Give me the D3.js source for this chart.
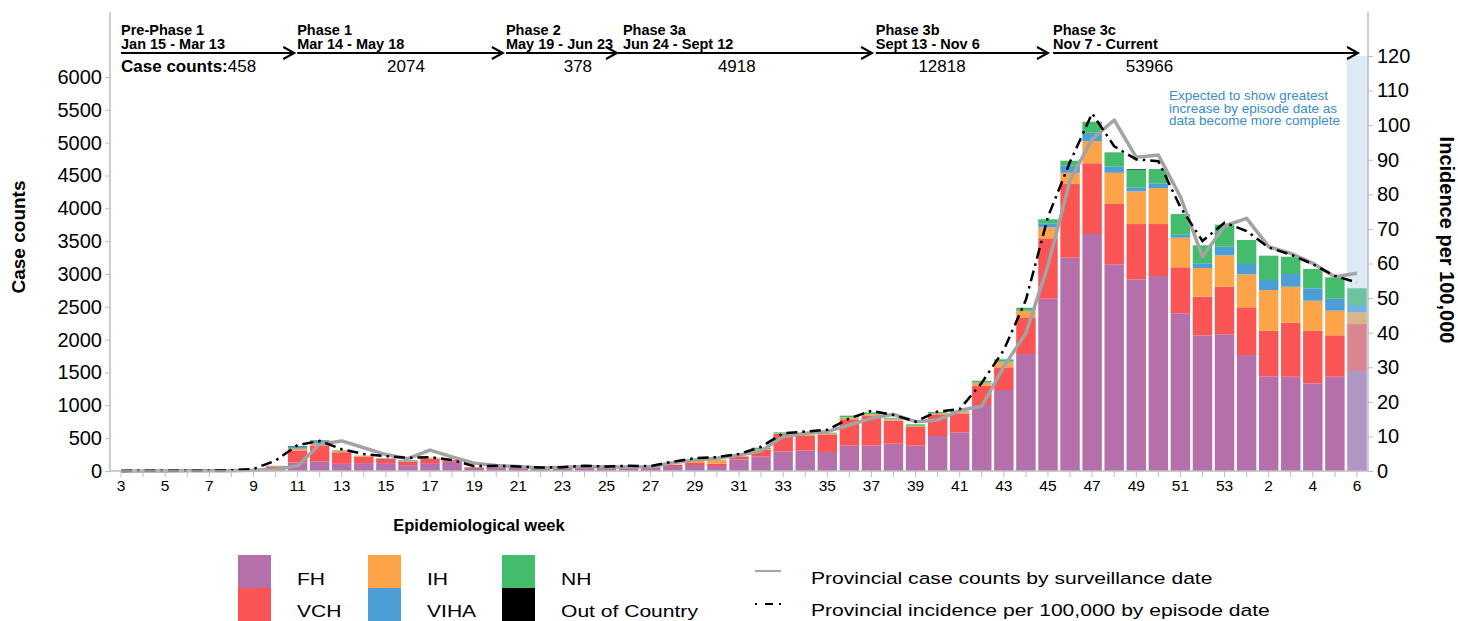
<!DOCTYPE html>
<html>
<head>
<meta charset="utf-8">
<script src="https://cdn.jsdelivr.net/npm/d3@7"></script>
<style>
  body { margin: 0; background: #fff; }
  svg { font-family: "Liberation Sans", Arial, sans-serif; }
</style>
</head>
<body>
<svg id="chart" width="1458" height="621"></svg>
<script>
// epi weeks 3..53 of 2020, then 1..6 of 2021
const weekLabels = [3,4,5,6,7,8,9,10,11,12,13,14,15,16,17,18,19,20,21,22,23,24,25,26,27,28,29,30,
  31,32,33,34,35,36,37,38,39,40,41,42,43,44,45,46,47,48,49,50,51,52,53,1,2,3,4,5,6]

const FH   = [0,0,1,1,2,2,6,20, 130,146,109,120,120,89,120,141,47,62, 60,42,52,62,55,60,56,76,91,76,
  178,218,300,310,290,386,386,416,386,533, 589,1005,1233,1782,2624,3248,3609,3148,2919,2969,
  2401,2066,2082, 1766,1442,1436,1335,1436,1523]
const VCH  = [1,0,1,2,2,4,14,50, 182,244,177,94,68,57,68,26,10,6, 8,5,7,8,8,14,8,17,31,36,
  40,107,263,223,268,401,451,350,284,330, 289,294,346,558,919,1122,1077,918,842,792,
  701,588,724, 727,694,822,801,630,715]
const IH   = [0,0,0,0,0,0,2,5, 27,27,21,15,5,4,8,3,3,3, 4,3,4,5,5,4,4,8,50,56,
  8,10,8,15,10,25,26,21,15,15, 15,45,76,96,168,172,339,476,498,548,
  451,437,478, 502,620,548,457,375,179]
const VIHA = [0,0,0,0,0,0,1,3, 26,41,6,3,3,10,4,2,0,2, 0,0,0,0,0,0,0,0,0,0,
  0,0,5,0,4,5,5,10,4,5, 3,8,10,10,61,107,126,92,61,72,
  45,72,132, 157,153,194,189,189,111]
const NH   = [0,0,0,0,0,0,0,2, 10,8,5,2,2,7,3,0,2,0, 0,0,0,2,0,0,0,0,3,4,
  3,20,13,5,12,26,25,13,22,17, 13,23,36,41,61,76,168,219,264,218,
  315,274,335, 366,370,263,294,320,254]
const OOC  = [0,0,0,0,0,0,0,0, 5,3,0,0,0,0,0,0,0,0, 0,0,0,0,0,0,0,0,0,0,
  0,0,0,0,0,0,0,0,0,0, 0,0,0,0,0,0,0,0,10,0,
  0,0,0, 0,0,0,0,0,0]

// provincial case counts by surveillance date (left axis)
const surveillance = [0,0,1,2,2,3,10,26, 78,406,458,354,250,188,318,214,120,83, 68,47,57,68,62,60,66,127,167,193,
  244,305,523,574,599,701,802,863,751,777, 920,985,1590,2100,3130,4430,5055,5345,4777,4812,
  4177,3263,3731, 3848,3416,3315,3163,2959,3010]
// provincial incidence per 100,000 by episode date (right axis)
const incidence = [0,0.1,0.1,0.1,0.1,0.2,0.6,3.0, 7.5,8.7,6.3,4.9,4.3,3.8,4.0,3.2,1.4,1.5, 1.3,1.0,1.1,1.5,1.3,1.5,1.4,2.7,3.7,4.0,
  4.9,7.0,10.9,11.4,11.9,15.2,17.4,16.2,14.3,17.2, 17.9,25.5,35.0,49.5,73.5,89.4,103.4,93.9,90.1,89.6,
  76.3,66.5,71.8, 69.4,64.6,62.6,59.8,56.4,54.5]

const regions = ["FH", "VCH", "IH", "VIHA", "NH", "Out of Country"]
const regionValues = [FH, VCH, IH, VIHA, NH, OOC]
const regionColors = ["#b56fab", "#fb5454", "#fda448", "#4c9fd6", "#43bc6b", "#000000"]

const leftTicks = d3.range(0, 6001, 500)
const rightTicks = d3.range(0, 121, 10)

const phaseNames  = ["Pre-Phase 1", "Phase 1", "Phase 2", "Phase 3a", "Phase 3b", "Phase 3c"]
const phaseDates  = ["Jan 15 - Mar 13", "Mar 14 - May 18", "May 19 - Jun 23", "Jun 24 - Sept 12", "Sept 13 - Nov 6", "Nov 7 - Current"]
const phaseCounts = [458, 2074, 378, 4918, 12818, 53966]

const noteLines = ["Expected to show greatest", "increase by episode date as", "data become more complete"]

// ---- layout (in band units along the week axis) ----
const phaseLayout = [
  {from: 0.5,   to: 8.35,  label: 0.5,   count: 0.5},
  {from: 8.48,  to: 17.8,  label: 8.48,  count: 13.41},
  {from: 17.94, to: 22.97, label: 17.94, count: 21.2},
  {from: 23.02, to: 34.53, label: 23.24, count: 28.4},
  {from: 34.7,  to: 42.5,  label: 34.7,  count: 37.7},
  {from: 42.73, to: 56.55, label: 42.73, count: 47.1},
]

const svg = d3.select("#chart")
const m = {left: 110, right: 1368, top: 12, bottom: 471}
const axisGrey = "#bdbdbd"

const x = d3.scaleBand()
    .domain(d3.range(weekLabels.length))
    .range([m.left, m.right])
    .paddingInner(0.12)
    .paddingOuter(0.06)
const yL = d3.scaleLinear().domain([0, 6000]).range([m.bottom, 77])
const yR = d3.scaleLinear().domain([0, 120]).range([m.bottom, 56])
const cx = i => x(i) + x.bandwidth() / 2
const xAt = p => m.left + x.step() * p

// stacked bars
const rows = weekLabels.map((w, i) => {
  const r = {i}
  regions.forEach((k, j) => r[k] = regionValues[j][i])
  return r
})
const stacked = d3.stack().keys(regions)(rows)

svg.append("g").selectAll("g")
  .data(stacked)
  .join("g")
    .attr("fill", (d, k) => regionColors[k])
  .selectAll("rect")
  .data(d => d)
  .join("rect")
    .attr("x", d => x(d.data.i))
    .attr("width", x.bandwidth())
    .attr("y", d => yL(d[1]))
    .attr("height", d => yL(d[0]) - yL(d[1]))

// shading over the last, incomplete week
const last = weekLabels.length - 1
svg.append("rect")
    .attr("x", x(last) - 0.5)
    .attr("width", m.right - x(last) + 0.5)
    .attr("y", yR(120))
    .attr("height", yR(0) - yR(120))
    .attr("fill", "#aacde8")
    .attr("opacity", 0.42)

// lines
svg.append("path")
    .datum(surveillance)
    .attr("d", d3.line().x((d, i) => cx(i)).y(d => yL(d)))
    .attr("fill", "none")
    .attr("stroke", "#a3a3a3")
    .attr("stroke-width", 3.5)
    .attr("stroke-linejoin", "round")

svg.append("path")
    .datum(incidence)
    .attr("d", d3.line().x((d, i) => cx(i)).y(d => yR(d)))
    .attr("fill", "none")
    .attr("stroke", "#000")
    .attr("stroke-width", 2.5)
    .attr("stroke-dasharray", "11,5,2.5,5")

// axes
const gL = svg.append("g")
    .attr("transform", `translate(${m.left},0)`)
    .call(d3.axisLeft(yL).tickValues(leftTicks).tickFormat(d3.format("d")).tickSize(5).tickPadding(3))
gL.select(".domain").remove()
gL.selectAll("line").attr("stroke", axisGrey)
gL.attr("font-size", 20).attr("font-family", null)

const gR = svg.append("g")
    .attr("transform", `translate(${m.right},0)`)
    .call(d3.axisRight(yR).tickValues(rightTicks).tickSize(5).tickPadding(4))
gR.select(".domain").remove()
gR.selectAll("line").attr("stroke", axisGrey)
gR.attr("font-size", 20).attr("font-family", null)

const gX = svg.append("g")
    .attr("transform", `translate(0,${m.bottom})`)
    .call(d3.axisBottom(x).tickSize(6).tickPadding(3)
      .tickFormat(i => i % 2 === 0 ? weekLabels[i] : ""))
gX.select(".domain").remove()
gX.selectAll("line").attr("stroke", axisGrey)
gX.attr("font-size", 15.5).attr("font-family", null)

svg.append("g").attr("stroke", axisGrey).attr("stroke-width", 1.5)
  .selectAll("line")
  .data([[m.left, m.top, m.left, m.bottom], [m.right, m.top, m.right, m.bottom], [m.left, m.bottom, m.right, m.bottom]])
  .join("line")
    .attr("x1", d => d[0]).attr("y1", d => d[1])
    .attr("x2", d => d[2]).attr("y2", d => d[3])

// axis titles
svg.append("text")
    .attr("transform", "translate(25,237) rotate(-90)")
    .attr("text-anchor", "middle")
    .attr("font-weight", "bold")
    .attr("font-size", 19)
    .text("Case counts")
svg.append("text")
    .attr("transform", "translate(1440,240) rotate(90)")
    .attr("text-anchor", "middle")
    .attr("font-weight", "bold")
    .attr("font-size", 20)
    .text("Incidence per 100,000")
svg.append("text")
    .attr("x", 479).attr("y", 531)
    .attr("text-anchor", "middle")
    .attr("font-weight", "bold")
    .attr("font-size", 16.5)
    .text("Epidemiological week")

// phases across the top
const gP = svg.append("g")
phaseLayout.forEach((p, k) => {
  const x0 = xAt(p.from), x1 = xAt(p.to)
  gP.append("line")
      .attr("x1", x0).attr("x2", x1).attr("y1", 53).attr("y2", 53)
      .attr("stroke", "#000").attr("stroke-width", 2)
  gP.append("path")
      .attr("d", `M${x1 - 11},47 L${x1},53 L${x1 - 11},59`)
      .attr("fill", "none").attr("stroke", "#000").attr("stroke-width", 2)
  gP.append("text")
      .attr("x", xAt(p.label)).attr("y", 35)
      .attr("font-weight", "bold").attr("font-size", 14.5)
      .text(phaseNames[k])
  gP.append("text")
      .attr("x", xAt(p.label)).attr("y", 49)
      .attr("font-weight", "bold").attr("font-size", 14.5)
      .text(phaseDates[k])
  if (k === 0) {
    const t = gP.append("text").attr("x", xAt(p.count)).attr("y", 72).attr("font-size", 17)
    t.append("tspan").attr("font-weight", "bold").text("Case counts:")
    t.append("tspan").text(phaseCounts[k])
  } else {
    gP.append("text")
        .attr("x", xAt(p.count)).attr("y", 72)
        .attr("text-anchor", "middle").attr("font-size", 17)
        .text(phaseCounts[k])
  }
})

// note about the last week
svg.append("g").attr("fill", "#3b8ccc").attr("font-size", 13.5)
  .selectAll("text")
  .data(noteLines)
  .join("text")
    .attr("x", 1169)
    .attr("y", (d, i) => 100 + i * 12.6)
    .text(d => d)

// legend: FH, VCH in col 0; IH, VIHA in col 1; NH, Out of Country in col 2
const lg = svg.append("g")
const legendCols = [238, 368, 502]
const legendOrder = [[0, 1], [2, 3], [4, 5]]
legendOrder.forEach((pair, col) => {
  pair.forEach((k, row) => {
    lg.append("rect")
        .attr("x", legendCols[col]).attr("y", 555 + row * 33)
        .attr("width", 33).attr("height", 33)
        .attr("fill", regionColors[k])
    lg.append("text")
        .attr("transform", `translate(${legendCols[col] + 59},${585 + row * 32}) scale(1.24,1)`)
        .attr("font-size", 17)
        .text(regions[k])
  })
})
lg.append("line")
    .attr("x1", 755).attr("x2", 781).attr("y1", 571).attr("y2", 571)
    .attr("stroke", "#a3a3a3").attr("stroke-width", 2)
lg.append("line")
    .attr("x1", 755).attr("x2", 781).attr("y1", 604).attr("y2", 604)
    .attr("stroke", "#000").attr("stroke-width", 2)
    .attr("stroke-dasharray", "2,8,8,6,2,100")
lg.append("text")
    .attr("transform", "translate(811,584) scale(1.24,1)")
    .attr("font-size", 17)
    .text("Provincial case counts by surveillance date")
lg.append("text")
    .attr("transform", "translate(811,616) scale(1.24,1)")
    .attr("font-size", 17)
    .text("Provincial incidence per 100,000 by episode date")
</script>
</body>
</html>
